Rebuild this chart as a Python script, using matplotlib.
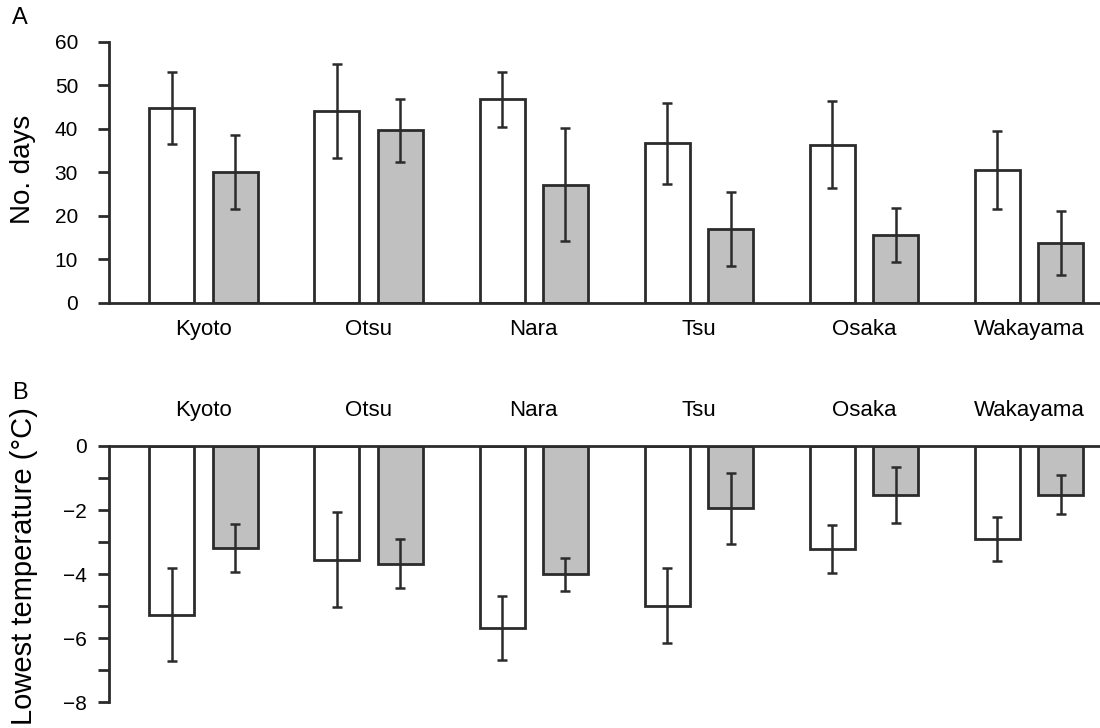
import numpy as np
import matplotlib
matplotlib.use('Agg')
import matplotlib.pyplot as plt

plt.rcParams['font.family'] = ['Liberation Sans', 'DejaVu Sans']

# Data
cities = ['Kyoto', 'Otsu', 'Nara', 'Tsu', 'Osaka', 'Wakayama']

# A: number of days (white / grey series) with error bars
days_white = [44.8, 44.0, 46.8, 36.6, 36.3, 30.5]
days_white_err = [8.3, 10.8, 6.3, 9.2, 10.0, 8.9]
days_grey = [30.1, 39.6, 27.1, 17.0, 15.6, 13.7]
days_grey_err = [8.5, 7.3, 13.0, 8.5, 6.2, 7.4]

# B: lowest temperature (white / grey series) with error bars
temp_white = [-5.26, -3.55, -5.69, -4.99, -3.21, -2.91]
temp_white_err = [1.44, 1.48, 1.00, 1.17, 0.75, 0.68]
temp_grey = [-3.19, -3.67, -4.01, -1.95, -1.52, -1.52]
temp_grey_err = [0.74, 0.77, 0.52, 1.12, 0.87, 0.61]

edge = '#2b2b2b'
grey = '#c0c0c0'
width = 0.2725
offset = 0.192
x = np.arange(len(cities))

fig = plt.figure(figsize=(11, 7.28), dpi=100)

axA = fig.add_axes([0.0988, 0.5842, 0.9012, 0.3585])
axB = fig.add_axes([0.0988, 0.0353, 0.9012, 0.3521])


def draw_bars(ax, white, white_err, grey_vals, grey_err):
    ekw = dict(elinewidth=1.8, capthick=1.8, ecolor=edge)
    ax.bar(x - offset, white, width, color='white', edgecolor=edge, linewidth=2,
           yerr=white_err, capsize=3.6, error_kw=ekw, zorder=2)
    ax.bar(x + offset, grey_vals, width, color=grey, edgecolor=edge, linewidth=2,
           yerr=grey_err, capsize=3.6, error_kw=ekw, zorder=2)
    ax.set_xlim(-0.574, 5.429)
    ax.spines['right'].set_visible(False)
    for s in ax.spines.values():
        s.set_linewidth(2)
        s.set_color(edge)


# Panel A
draw_bars(axA, days_white, days_white_err, days_grey, days_grey_err)
axA.set_ylim(0, 60)
axA.set_yticks(np.arange(0, 61, 10))
axA.spines['top'].set_visible(False)
axA.set_xticks(x)
axA.set_xticklabels(cities, fontsize=16)
axA.tick_params(axis='x', length=0, pad=12)
axA.tick_params(axis='y', labelsize=15, length=8, width=2, pad=14, color=edge)

# Panel B
draw_bars(axB, temp_white, temp_white_err, temp_grey, temp_grey_err)
axB.set_ylim(-8, 0)
axB.set_yticks(np.arange(-8, 1, 2))
axB.set_yticks(np.arange(-7, 0, 2), minor=True)
axB.set_yticklabels(['\u22128', '\u22126', '\u22124', '\u22122', '0'])
axB.spines['bottom'].set_visible(False)
axB.xaxis.tick_top()
axB.set_xticks(x)
axB.set_xticklabels(cities, fontsize=16)
axB.tick_params(axis='x', length=0, pad=18)
axB.tick_params(axis='y', which='both', labelsize=15, length=8, width=2, pad=8, color=edge)

# Axis labels and panel letters
fig.text(0.021, 0.768, 'No. days', rotation=90, fontsize=20, ha='center', va='center')
fig.text(0.022, 0.222, 'Lowest temperature (\u00b0C)', rotation=90, fontsize=21,
         ha='center', va='center')
fig.text(0.011, 0.975, 'A', fontsize=17, ha='left', va='center')
fig.text(0.011, 0.46, 'B', fontsize=17, ha='left', va='center')

fig.savefig('out.png', dpi=100)
